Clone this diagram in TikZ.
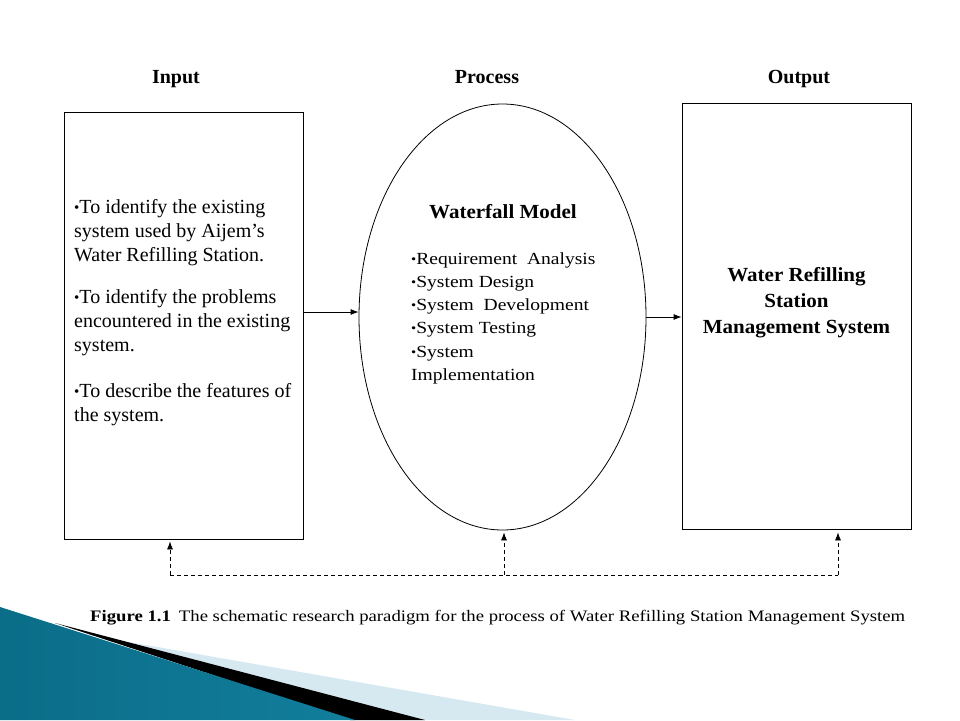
\documentclass[tikz,border=0pt]{standalone}
\usepackage{fontspec}
\setmainfont{Liberation Serif}
\newfontfamily\widefont{Liberation Serif}[FakeStretch=1.15]
\newfontfamily\capfont{Liberation Serif}[FakeStretch=1.17]
\newfontfamily\boldfont{Liberation Serif}[FakeStretch=1.05]
\usetikzlibrary{shapes.geometric, arrows.meta}
\definecolor{tealdark}{HTML}{0B6D88}
\definecolor{teallight}{HTML}{58B9D8}
\definecolor{tealmid}{HTML}{117E9C}
\definecolor{paleblue}{HTML}{D6E8F0}
\newcommand{\bul}{\raisebox{0.12ex}{\scalebox{0.75}{\textbullet}}}

\begin{document}
\begin{tikzpicture}[x=1pt, y=-1pt, >={Latex[length=8pt,width=6pt]},
  box/.style={draw, line width=0.8pt, inner sep=0pt},
  heading/.style={anchor=base, font=\fontsize{20}{24}\selectfont\bfseries},
  fb/.style={dash pattern=on 4pt off 3pt, line width=0.7pt}]
  \useasboundingbox (0,0) rectangle (960,720);
  % corner decoration
  \fill[paleblue] (100,637) -- (575,720) -- (380,720) -- cycle;
  \fill[black] (55,623) -- (425,720) -- (350,720) -- cycle;
  \shade[left color=tealdark, middle color=teallight, right color=tealmid]
    (0,607) -- (355,720) -- (0,720) -- cycle;
  % headings
  \node[heading] (inputlabel) at (176,83) {Input};
  \node[heading] (processlabel) at (487,83) {Process};
  \node[heading] (outputlabel) at (799,83) {Output};
  % boxes
  \node[box, minimum width=239, minimum height=427] (input) at (183.5,325.5) {};
  \node[box, ellipse, minimum width=287, minimum height=426] (process) at (502.5,317) {};
  \node[box, minimum width=229, minimum height=426] (output) at (796.5,316) {};
  \node[anchor=north west, inner sep=0pt, align=left,
    font=\fontsize{20}{24}\selectfont] (inputtext) at (74,199)
    {\bul To identify the existing\\ system used by Aijem’s\\ Water Refilling Station.\\[18pt]
     \bul To identify the problems\\ encountered in the existing\\ system.\\[22pt]
     \bul To describe the features of\\ the system.};
  \node[font=\boldfont\fontsize{20}{24}\selectfont\bfseries] (model) at (503,212) {Waterfall Model};
  \node[anchor=north west, inner sep=0pt, align=left,
    font=\widefont\fontsize{17}{23.3}\selectfont] (steps) at (411,252)
    {\bul Requirement\ \ Analysis\\ \bul System Design\\ \bul System\ \ Development\\
     \bul System Testing\\ \bul System\\ Implementation};
  \node[align=center, font=\boldfont\fontsize{20}{26}\selectfont\bfseries] (result) at (796.5,303)
    {Water Refilling\\ Station\\ Management System};
  % connectors
  \coordinate (arrowin) at ([yshift=5pt]process.west);
  \draw[->, line width=0.8pt] (input.east |- arrowin) -- (arrowin);
  \draw[->, line width=0.8pt] (process.east) -- (output.west |- process.east);
  \coordinate (fbleft) at (170,575);
  \coordinate (fbmid) at (504,575);
  \coordinate (fbright) at (838,575);
  \draw[fb] (fbleft) -- (fbright);
  \draw[fb, ->, shorten >=2pt] (fbleft) -- (fbleft |- input.south);
  \draw[fb, ->, shorten >=2pt] (fbmid) -- (fbmid |- process.south);
  \draw[fb, ->, shorten >=3pt] (fbright) -- (fbright |- output.south);
  % caption
  \node[anchor=base west, inner sep=0pt, font=\capfont\fontsize{16}{19}\selectfont] (caption) at (90,621)
    {\textbf{Figure 1.1}\enspace The schematic research paradigm for the process of Water Refilling Station Management System};
\end{tikzpicture}
\end{document}
